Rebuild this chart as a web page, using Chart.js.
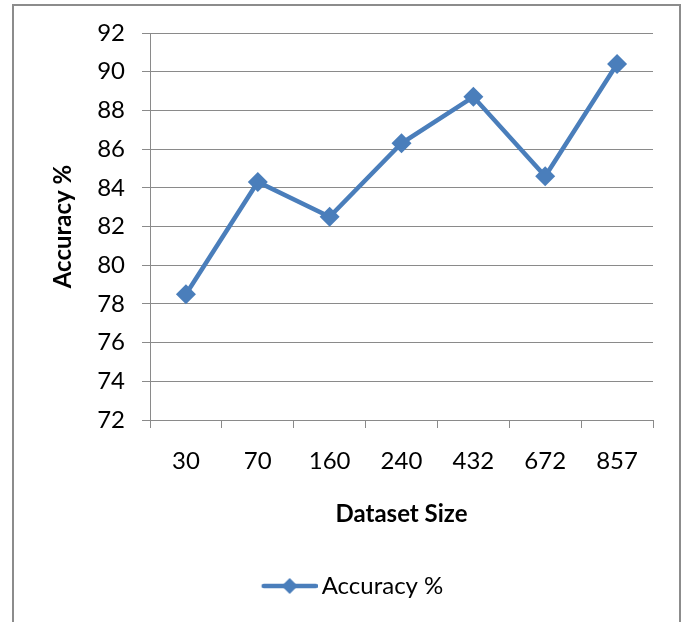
<!DOCTYPE html>
<html>
<head>
<meta charset="utf-8">
<title>Accuracy by Dataset Size</title>
<script src="https://cdn.jsdelivr.net/npm/chart.js@4/dist/chart.umd.min.js"></script>
<style>
  html, body { margin: 0; padding: 0; background: #ffffff; }
  #wrap { position: relative; width: 689px; height: 622px; }
</style>
</head>
<body>
<div id="wrap"><canvas id="chart" width="689" height="622"></canvas></div>
<script>
// Categories and measured values
const datasetSizes = ['30', '70', '160', '240', '432', '672', '857'];
const accuracyValues = [78.5, 84.3, 82.5, 86.3, 88.7, 84.6, 90.4];
const seriesName = 'Accuracy %';
const xAxisTitle = 'Dataset Size';
const yAxisTitle = 'Accuracy %';
const yRange = { min: 72, max: 92, step: 2 };

const BLUE = '#4a7ebb';
const GRID = '#8a8a8a';
const FONT = 'Lato';
const TEXT_SIZE = 24;

Chart.defaults.font.family = FONT;
Chart.defaults.color = '#000000';

// Legend marker: a short line with a diamond in the middle
function legendMarker() {
  const c = document.createElement('canvas');
  c.width = 66; c.height = 20;
  const g = c.getContext('2d');
  g.strokeStyle = BLUE; g.lineWidth = 4.5; g.lineCap = 'round';
  g.beginPath(); g.moveTo(12, 10); g.lineTo(64, 10); g.stroke();
  g.fillStyle = BLUE;
  g.beginPath(); g.moveTo(38, 2); g.lineTo(46, 10); g.lineTo(38, 18); g.lineTo(30, 10); g.closePath(); g.fill();
  return c;
}
const marker = legendMarker();

// White page with a grey frame around the chart
const framePlugin = {
  id: 'frame',
  beforeDraw(chart) {
    const ctx = chart.ctx;
    ctx.save();
    ctx.fillStyle = '#ffffff';
    ctx.fillRect(0, 0, chart.width, chart.height);
    ctx.strokeStyle = '#8c8c8c';
    ctx.lineWidth = 2;
    ctx.strokeRect(13, 5, 667, 640);
    ctx.restore();
  }
};

new Chart(document.getElementById('chart'), {
  type: 'line',
  data: {
    labels: datasetSizes,
    datasets: [{
      label: seriesName,
      data: accuracyValues,
      borderColor: BLUE,
      backgroundColor: BLUE,
      borderWidth: 4.5,
      tension: 0,
      pointStyle: 'rectRot',
      pointRadius: 10,
      pointBorderWidth: 0,
      pointBackgroundColor: BLUE,
      clip: false
    }]
  },
  options: {
    responsive: false,
    animation: false,
    events: [],
    layout: { padding: { left: 50, right: 36, top: 33, bottom: 14 } },
    plugins: {
      tooltip: { enabled: false },
      legend: {
        position: 'bottom',
        labels: {
          usePointStyle: true,
          pointStyleWidth: 50,
          font: { size: TEXT_SIZE },
          color: '#000000',
          padding: 10,
          generateLabels(chart) {
            return chart.data.datasets.map((ds, i) => ({
              text: ds.label,
              pointStyle: marker,
              fillStyle: BLUE,
              strokeStyle: BLUE,
              lineWidth: 0,
              hidden: false,
              datasetIndex: i,
              fontColor: '#000000'
            }));
          }
        }
      }
    },
    scales: {
      x: {
        offset: true,
        grid: {
          display: true,
          offset: true,
          drawOnChartArea: false,
          drawTicks: true,
          tickLength: 8,
          color: GRID,
          lineWidth: 1
        },
        border: { display: true, color: GRID, width: 1 },
        ticks: { font: { size: TEXT_SIZE }, padding: 19, color: '#000000' },
        title: {
          display: true,
          text: xAxisTitle,
          font: { size: TEXT_SIZE, weight: 'bold', lineHeight: 1 },
          padding: { top: 0, bottom: 37.5 },
          color: '#000000'
        },
        afterFit(scale) { scale.height = 144; }
      },
      y: {
        min: yRange.min,
        max: yRange.max,
        grid: {
          color: GRID,
          lineWidth: 1,
          drawTicks: true,
          tickLength: 8
        },
        border: { display: true, color: GRID, width: 1 },
        ticks: {
          stepSize: yRange.step,
          font: { size: TEXT_SIZE },
          padding: 17,
          color: '#000000'
        },
        title: {
          display: true,
          text: yAxisTitle,
          font: { size: TEXT_SIZE, weight: 'bold', lineHeight: 1 },
          padding: { top: 1, bottom: 0 },
          color: '#000000'
        },
        afterFit(scale) { scale.width = 100; }
      }
    }
  },
  plugins: [framePlugin]
});
</script>
</body>
</html>
